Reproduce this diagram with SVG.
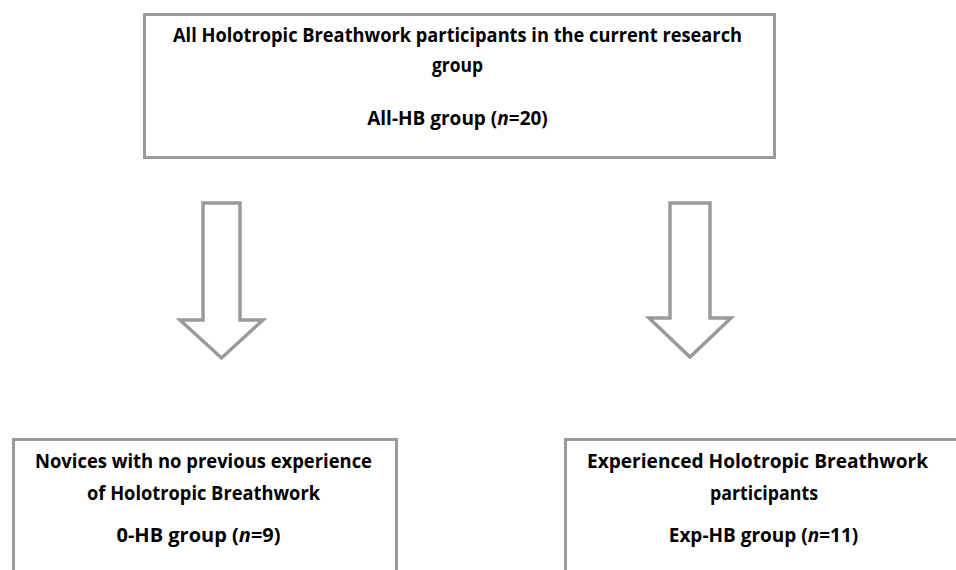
<svg xmlns="http://www.w3.org/2000/svg" width="956" height="570" viewBox="0 0 956 570">
<style>
.box{fill:#fff;stroke:#9a9a9a;stroke-width:3}
.arr{fill:#fff;stroke:#9a9a9a;stroke-width:3.5;stroke-linejoin:miter}
.t{font-family:"Open Sans","Liberation Sans",sans-serif;font-weight:700;fill:#000}
.t1{font-size:19px}
.t2{font-size:20px}
.m{text-anchor:middle}
</style>
<rect width="956" height="570" fill="#fff"/>
<g id="connectors">
<polygon class="arr" points="203,203 240,203 240,320 263,320 221.5,358 180,320 203,320"/>
<polygon class="arr" points="670,203 710,203 710,318 731,318 690,357 649,318 670,318"/>
</g>
<g id="node-all">
<rect class="box" x="144.5" y="14.5" width="630" height="143"/>
<text class="t t1" x="173" y="42" textLength="569" lengthAdjust="spacingAndGlyphs">All Holotropic Breathwork participants in the current research</text>
<text class="t t1" x="432" y="72" textLength="51" lengthAdjust="spacingAndGlyphs">group</text>
<text class="t t1 m" x="457.5" y="125">All-HB group (<tspan font-style="italic">n</tspan>=20)</text>
</g>
<g id="node-novice">
<rect class="box" x="13.5" y="439.5" width="383" height="150"/>
<text class="t t2" x="35" y="468" textLength="337" lengthAdjust="spacingAndGlyphs">Novices with no previous experience</text>
<text class="t t2" x="87" y="500" textLength="233" lengthAdjust="spacingAndGlyphs">of Holotropic Breathwork</text>
<text class="t t2 m" x="198.5" y="542">0-HB group (<tspan font-style="italic">n</tspan>=9)</text>
</g>
<g id="node-exp">
<rect class="box" x="565.5" y="439.5" width="400" height="150"/>
<text class="t t2" x="587" y="468" textLength="341" lengthAdjust="spacingAndGlyphs">Experienced Holotropic Breathwork</text>
<text class="t t2" x="710" y="500" textLength="108" lengthAdjust="spacingAndGlyphs">participants</text>
<text class="t t1 m" x="763.5" y="542">Exp-HB group (<tspan font-style="italic">n</tspan>=11)</text>
</g>
</svg>
